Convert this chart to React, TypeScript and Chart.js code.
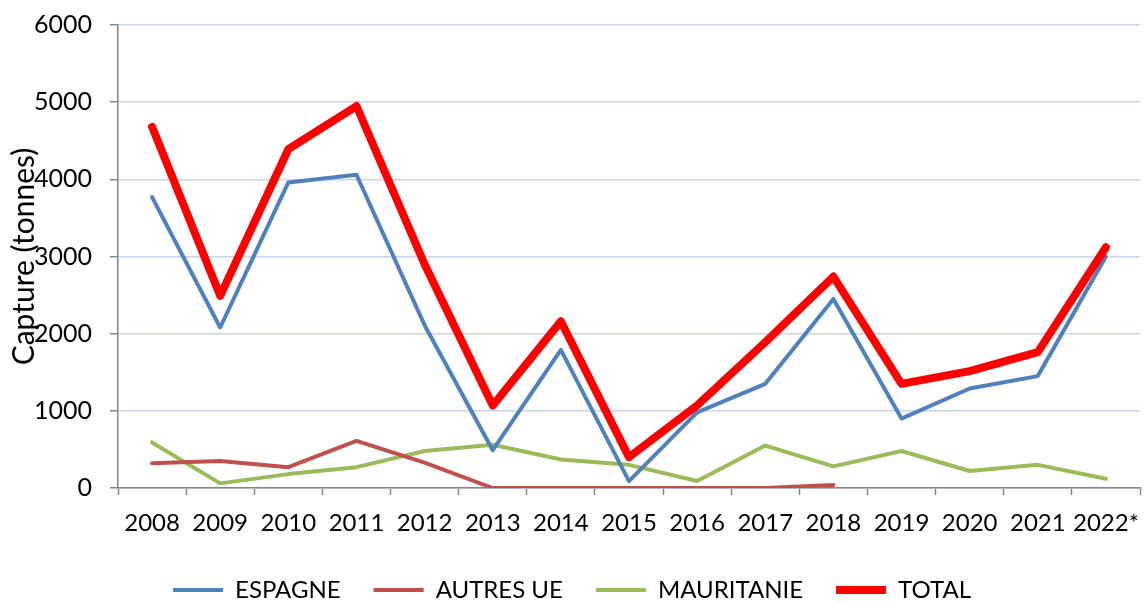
import React, { useEffect, useRef } from "react";
import { Chart, registerables } from "chart.js";

Chart.register(...registerables);

const categories = ["2008", "2009", "2010", "2011", "2012", "2013", "2014", "2015", "2016", "2017", "2018", "2019", "2020", "2021", "2022*"];
const espagne = [3770, 2080, 3960, 4060, 2110, 490, 1790, 90, 980, 1350, 2450, 900, 1290, 1450, 3000];
const autresUE = [320, 350, 270, 610, 330, 0, 0, 0, 0, 0, 40, null, null, null, null];
const mauritanie = [590, 60, 180, 270, 480, 560, 370, 300, 90, 550, 280, 480, 220, 300, 120];
const total = [4680, 2490, 4390, 4950, 2900, 1070, 2160, 400, 1070, 1890, 2740, 1350, 1515, 1760, 3120];
const yTicks = [0, 1000, 2000, 3000, 4000, 5000, 6000];

export default function App() {
  const ref = useRef<HTMLCanvasElement | null>(null);
  useEffect(() => {
    if (!ref.current) return;
    const chart = new Chart(ref.current, {
      type: "line",
      data: {
        labels: categories,
        datasets: [
          { label: "ESPAGNE", data: espagne, borderColor: "#4f81bd", backgroundColor: "#4f81bd", borderWidth: 4, order: 1 },
          { label: "AUTRES UE", data: autresUE, borderColor: "#c0504d", backgroundColor: "#c0504d", borderWidth: 4, order: 2 },
          { label: "MAURITANIE", data: mauritanie, borderColor: "#9bbb59", backgroundColor: "#9bbb59", borderWidth: 4, order: 3 },
          { label: "TOTAL", data: total, borderColor: "#ff0000", backgroundColor: "#ff0000", borderWidth: 8, order: 0 },
        ],
      },
      options: {
        animation: false,
        responsive: true,
        maintainAspectRatio: false,
        layout: { padding: { left: 4, right: 5, top: 25, bottom: -10 } },
        elements: {
          point: { radius: 0, hoverRadius: 0 },
          line: { tension: 0, borderCapStyle: "round", borderJoinStyle: "round" },
        },
        plugins: {
          tooltip: { enabled: false },
          legend: {
            position: "bottom",
            labels: {
              usePointStyle: true,
              pointStyle: "line",
              pointStyleWidth: 50,
              padding: 33,
              color: "#000",
              font: { family: "Lato", size: 24 },
              sort: (a: any, b: any) => a.datasetIndex - b.datasetIndex,
            },
          },
        },
        scales: {
          x: {
            offset: true,
            grid: { offset: true, drawOnChartArea: false, tickLength: 7, tickColor: "#868686", tickWidth: 1.5 },
            border: { display: true, color: "#868686", width: 1.5 },
            ticks: { color: "#000", font: { family: "Lato", size: 24 }, padding: 14, maxRotation: 0, autoSkip: false },
            afterFit: (s: any) => { s.height = 57; s.paddingLeft = 0; s.paddingRight = 0; },
          },
          y: {
            min: 0,
            max: 6000,
            afterBuildTicks: (s: any) => { s.ticks = yTicks.map((v) => ({ value: v })); },
            grid: { color: "#c6d4ec", lineWidth: 1.5, tickColor: "#868686", tickLength: 8, tickWidth: 1.5 },
            border: { display: true, color: "#868686", width: 1.5 },
            ticks: { color: "#000", font: { family: "Lato", size: 25 }, padding: 18, callback: (v: any) => String(v) },
            title: { display: true, text: "Capture (tonnes)", color: "#000", font: { family: "Lato", size: 30 }, padding: { top: 2, bottom: 2 } },
            afterFit: (s: any) => { s.width = 114; s.paddingTop = 0; s.paddingBottom = 0; },
          },
        },
      },
    });
    return () => chart.destroy();
  }, []);
  return (
    <div style={{ position: "fixed", left: 0, top: 0, width: 1145, height: 602, background: "#fff" }}>
      <canvas ref={ref} />
    </div>
  );
}
